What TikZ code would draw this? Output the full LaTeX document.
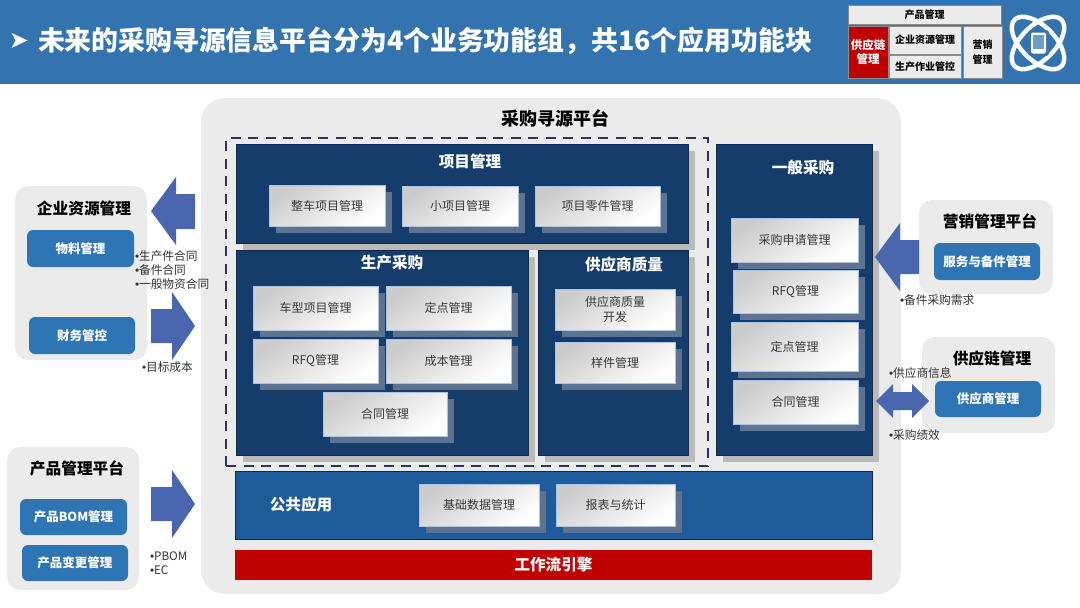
\documentclass[tikz,border=0pt]{standalone}
\usepackage{fontspec}
\setmainfont{Noto Sans CJK SC}
\newfontfamily\symfont{DejaVu Sans}
\newfontfamily\bulfont{Liberation Sans}
\usetikzlibrary{shadows}
\definecolor{headblue}{HTML}{3273B0}
\definecolor{navy}{HTML}{153D6C}
\definecolor{navyedge}{HTML}{0E2A50}
\definecolor{pubblue}{HTML}{1F5A9B}
\definecolor{midblue}{HTML}{2E75B6}
\definecolor{panelgrey}{HTML}{EBEBEB}
\definecolor{arrowblue}{HTML}{4A66AE}
\definecolor{darkred}{HTML}{C00000}
\definecolor{cardedge}{HTML}{A5C6EA}
\definecolor{cardshadow}{HTML}{5F7391}
\definecolor{dashnavy}{HTML}{2A3560}
\newcommand\fs[1]{\fontsize{#1}{14.5}\selectfont}
\newcommand\bul{{\bulfont •}}
\tikzset{
  rectnode/.style={inner sep=0pt,outer sep=0pt,align=center},
  block/.style={rectnode,fill=navy,draw=navyedge,line width=0.8pt,
    general shadow={shadow xshift=7pt,shadow yshift=-7pt,fill=black!27}},
  blocktitle/.style={rectnode,text=white,font=\bfseries\fs{15.6}},
  card/.style={rectnode,draw=cardedge,line width=1pt,top color=black!20,bottom color=white,
    shading angle=35,text=black!78,font=\fs{12},
    general shadow={shadow xshift=7pt,shadow yshift=-7pt,fill=cardshadow}},
  panel/.style={rectnode,fill=panelgrey,rounded corners=13pt},
  pill/.style={rectnode,fill=midblue,rounded corners=6pt,text=white,font=\bfseries\fs{12.5}},
  paneltitle/.style={rectnode,text=black,font=\bfseries\fs{15.7}},
  note/.style={rectnode,anchor=west,text=black!80,font=\fs{11.7},align=left},
  bigarrow/.style={fill=arrowblue,draw=none},
  legend/.style={rectnode,fill=panelgrey,draw=black!45,line width=0.8pt,font=\bfseries\fs{10},text=black},
}
\begin{document}
\begin{tikzpicture}[x=1pt,y=-1pt]
\useasboundingbox (0,0) rectangle (1080,608);
\fill[white] (0,0) rectangle (1080,608);
% header
\node[rectnode,fill=headblue,minimum width=1080,minimum height=84,anchor=north west] (header) at (0,0) {};
\node[rectnode,anchor=west,text=white,font=\symfont\fs{24}] (bullet) at (9,41) {➤};
\node[rectnode,anchor=west,text=white,font=\bfseries\fs{26.85}] (title) at (38,41) {未来的采购寻源信息平台分为4个业务功能组，共16个应用功能块};
% legend
\node[legend,minimum width=153,minimum height=19] (lg1) at (924.5,14.5) {产品管理};
\node[legend,fill=darkred,text=white,font=\bfseries\fs{11.5},minimum width=40,minimum height=52] (lg2) at (868,52) {供应链\\管理};
\node[legend,minimum width=72,minimum height=28] (lg3) at (925,40) {企业资源管理};
\node[legend,minimum width=72,minimum height=23] (lg4) at (925,66.5) {生产作业管控};
\node[legend,minimum width=39,minimum height=52] (lg5) at (982.5,52) {营销\\管理};
% icon
\draw[white,line width=4.4pt,rotate around={45:(1038,43)}] (1038,43) ellipse [x radius=33,y radius=17];
\draw[white,line width=4.4pt,rotate around={-45:(1038,43)}] (1038,43) ellipse [x radius=33,y radius=17];
\node[rectnode,fill=headblue,minimum width=21,minimum height=26,rounded corners=3pt] (iconbg) at (1038.5,43) {};
\node[rectnode,fill=white,minimum width=15,minimum height=21,rounded corners=2pt] (tablet) at (1038.5,43) {};
\node[rectnode,fill=headblue!70,minimum width=11.5,minimum height=14] (screen) at (1038.5,42) {};
% main panel
\node[rectnode,fill=panelgrey,rounded corners=24pt,minimum width=700,minimum height=496] (main) at (551,346) {};
\node[rectnode,text=black,font=\bfseries\fs{18}] (maintitle) at (555,118) {采购寻源平台};
\node[rectnode,draw=dashnavy,line width=2pt,dash pattern=on 10pt off 7.5pt,minimum width=482,minimum height=328] (dash) at (467,302) {};
% blocks
\node[block,minimum width=452,minimum height=99] (b1) at (462,193.5) {};
\node[block,minimum width=292,minimum height=205] (b2) at (382,352.5) {};
\node[block,minimum width=150,minimum height=205] (b3) at (613,352.5) {};
\node[block,minimum width=156,minimum height=311] (b4) at (794,299.5) {};
\node[rectnode,fill=pubblue,draw=navyedge,line width=0.8pt,minimum width=637,minimum height=68] (b5) at (553.5,505) {};
\node[rectnode,fill=darkred,minimum width=637,minimum height=30,text=white,font=\bfseries\fs{15.6}] (b6) at (553.5,565) {工作流引擎};
\node[blocktitle] (t1) at (470,162) {项目管理};
\node[blocktitle] (t2) at (392,263) {生产采购};
\node[blocktitle] (t3) at (624,265) {供应商质量};
\node[blocktitle] (t4) at (803,168) {一般采购};
\node[blocktitle] (t5) at (301,505) {公共应用};
% cards
\node[card,minimum width=116,minimum height=41] (c1) at (327,205.5) {整车项目管理};
\node[card,minimum width=116,minimum height=40] (c2) at (460,206) {小项目管理};
\node[card,minimum width=125,minimum height=40] (c3) at (597.5,206) {项目零件管理};
\node[card,minimum width=125,minimum height=44] (c4) at (315.5,308) {车型项目管理};
\node[card,minimum width=125,minimum height=44] (c5) at (448.5,308) {定点管理};
\node[card,minimum width=125,minimum height=44] (c6) at (315.5,361) {RFQ管理};
\node[card,minimum width=125,minimum height=44] (c7) at (448.5,361) {成本管理};
\node[card,minimum width=124,minimum height=44] (c8) at (385,414) {合同管理};
\node[card,minimum width=120,minimum height=41] (c9) at (615,309.5) {供应商质量\\开发};
\node[card,minimum width=120,minimum height=41] (c10) at (615,362.5) {样件管理};
\node[card,minimum width=127,minimum height=44] (c11) at (794.5,240) {采购申请管理};
\node[card,minimum width=125,minimum height=43] (c12) at (795.5,291.5) {RFQ管理};
\node[card,minimum width=127,minimum height=49] (c13) at (794.5,346.5) {定点管理};
\node[card,minimum width=125,minimum height=44] (c14) at (795.5,402) {合同管理};
\node[card,minimum width=120,minimum height=42] (c15) at (479,505) {基础数据管理};
\node[card,minimum width=119,minimum height=42] (c16) at (615.5,505) {报表与统计};
% left panels
\node[panel,minimum width=132,minimum height=174] (p1) at (81,273) {};
\node[paneltitle] (p1t) at (84,208) {企业资源管理};
\node[pill,minimum width=107,minimum height=37] (p1a) at (80.5,248.5) {物料管理};
\node[pill,minimum width=106,minimum height=37] (p1b) at (82,335.5) {财务管控};
\node[panel,minimum width=132,minimum height=143] (p2) at (73,518.5) {};
\node[paneltitle] (p2t) at (77,468) {产品管理平台};
\node[pill,minimum width=107,minimum height=36] (p2a) at (73.5,517) {产品BOM管理};
\node[pill,minimum width=106,minimum height=36] (p2b) at (75,563) {产品变更管理};
% right panels
\node[panel,minimum width=134,minimum height=94] (p3) at (986,247) {};
\node[paneltitle] (p3t) at (990,221) {营销管理平台};
\node[pill,minimum width=106,minimum height=37] (p3a) at (987,261.5) {服务与备件管理};
\node[panel,minimum width=133,minimum height=96] (p4) at (988.5,385) {};
\node[paneltitle] (p4t) at (992,358) {供应链管理};
\node[pill,minimum width=106,minimum height=36] (p4a) at (988,399) {供应商管理};
% block arrows
\fill[bigarrow] (151,211) -- (176,177) -- (176,194) -- (195,194) -- (195,229) -- (176,229) -- (176,245) -- cycle;
\fill[bigarrow] (151,309) -- (172,309) -- (172,292) -- (195,326) -- (172,360) -- (172,343) -- (151,343) -- cycle;
\fill[bigarrow] (151,487) -- (172,487) -- (172,470) -- (195,504) -- (172,538) -- (172,521) -- (151,521) -- cycle;
\fill[bigarrow] (875,257) -- (900,223) -- (900,240) -- (919,240) -- (919,274) -- (900,274) -- (900,291) -- cycle;
\fill[bigarrow] (876,401) -- (893,384) -- (893,392) -- (912,392) -- (912,384) -- (929,401) -- (912,418) -- (912,410) -- (893,410) -- (893,418) -- cycle;
% notes
\node[note] (n1) at (135,256) {\bul 生产件合同};
\node[note] (n2) at (135,270) {\bul 备件合同};
\node[note] (n3) at (135,284) {\bul 一般物资合同};
\node[note] (n4) at (142,367) {\bul 目标成本};
\node[note] (n5) at (900,300) {\bul 备件采购需求};
\node[note] (n6) at (889,373) {\bul 供应商信息};
\node[note] (n7) at (889,435) {\bul 采购绩效};
\node[note] (n8) at (150,556) {\bul PBOM};
\node[note] (n9) at (150,570) {\bul EC};
\end{tikzpicture}
\end{document}
